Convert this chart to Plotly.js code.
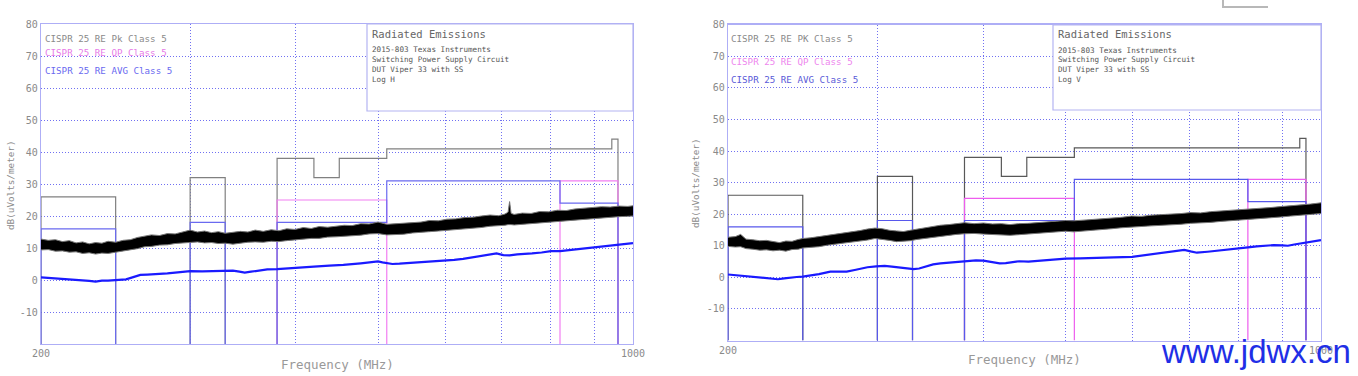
<!DOCTYPE html>
<html>
<head>
<meta charset="utf-8">
<script src="https://cdn.plot.ly/plotly-3.0.1.min.js"></script>
<style>html,body{margin:0;padding:0;background:#fff;}#chart{width:1358px;height:376px;}</style>
</head>
<body>
<div id="chart"></div>
<script>
// ---------- Limit lines (CISPR 25 Class 5), MHz / dB(uV/m) ----------
const pkStart = [200, 300, 380, 420, 450, 512, 944];
const pkStop  = [245, 330, 420, 450, 512, 944, 960];
const pkLevel = [26, 32, 38, 32, 38, 41, 44];
const qpStart = [380, 820];
const qpStop  = [512, 960];
const qpLevel = [25, 31];
const avStart = [200, 300, 380, 512, 820];
const avStop  = [245, 330, 512, 820, 960];
const avLevel = [16, 18, 18, 31, 24];

// ---------- Left panel (Log H) measured peak trace envelope ----------
const fPkL = [200,204,208,212,216,220,224,228,232,236,240,245,250,255,260,265,270,276,282,288,294,300,306,312,318,324,330,337,344,351,358,366,374,382,390,399,408,417,426,436,446,456,466,477,488,500,512,524,536,549,562,575,589,603,617,632,647,662,678,694,706,712,715,718,724,740,758,776,795,814,834,854,875,896,918,940,963,986,1000];
const pkHiL = [12.8,12.4,12.6,12.0,12.3,11.6,11.9,11.3,11.7,11.5,12.1,11.8,12.4,12.6,13.3,13.6,14.1,13.9,14.5,14.4,15.0,15.6,15.0,15.3,14.8,15.1,14.6,14.9,15.2,15.0,15.6,15.2,15.7,15.4,16.0,15.8,16.4,16.1,16.7,16.5,16.9,17.1,17.0,17.6,17.5,18.1,17.4,17.6,17.8,18.0,18.1,18.6,18.5,19.0,19.1,19.5,19.6,20.0,20.3,20.1,20.6,21.2,24.5,20.8,20.5,20.9,20.8,21.4,21.3,21.8,21.7,22.2,22.4,22.6,22.9,22.8,23.1,23.0,23.2];
const pkLoL = [9.4,9.5,9.0,9.1,8.7,8.8,8.3,8.5,8.1,8.4,8.3,8.7,8.9,9.4,9.8,10.4,10.5,10.9,11.0,11.4,11.5,11.8,11.9,11.6,11.7,11.4,11.5,11.2,11.6,11.8,11.9,11.8,12.1,12.0,12.3,12.6,12.7,13.0,13.0,13.4,13.5,13.6,13.9,14.0,14.4,14.5,14.1,14.2,14.3,14.7,14.8,15.1,15.3,15.5,15.7,15.9,16.2,16.4,16.8,16.9,17.1,17.3,17.2,17.3,17.2,17.4,17.6,17.8,18.1,18.3,18.4,18.7,18.9,19.2,19.5,19.6,19.8,19.9,20.0];

// ---------- Left panel measured average trace ----------
const fAvL = [200,206,212,218,224,228,232,236,240,246,252,257,262,267,272,277,282,290,300,310,320,330,337,343,348,354,360,370,380,392,404,420,438,455,477,490,500,506,512,520,530,545,560,580,600,615,630,645,660,675,690,703,715,730,745,760,780,800,820,840,860,880,900,920,940,960,980,1000];
const avgL = [0.8,0.6,0.4,0.2,0.0,-0.3,-0.5,-0.2,-0.2,0.0,0.2,0.9,1.6,1.7,1.8,1.9,2.1,2.4,2.8,2.7,2.8,2.9,2.9,2.6,2.3,2.6,2.9,3.3,3.4,3.7,4.0,4.2,4.5,4.7,5.2,5.5,5.8,5.5,5.2,5.0,5.1,5.3,5.6,5.8,6.0,6.3,6.6,7.1,7.5,7.9,8.3,7.8,7.7,8.0,8.1,8.3,8.6,9.0,9.0,9.3,9.6,9.9,10.2,10.5,10.8,11.1,11.4,11.5];

// ---------- Right panel (Log V) measured peak trace envelope ----------
const fPkR = [200,204,207,210,214,218,222,226,230,234,238,242,245,250,256,262,268,274,280,286,292,298,304,310,316,322,328,334,340,348,356,364,372,380,390,400,410,420,430,440,452,464,476,488,500,511,524,538,552,567,582,598,614,631,648,666,684,702,721,741,761,782,804,826,849,872,896,921,946,972,1000];
const pkHiR = [12.7,12.9,13.6,12.1,11.9,11.6,11.7,11.3,11.0,11.5,11.4,12.0,12.3,12.5,12.9,13.2,13.7,13.9,14.4,14.8,15.3,15.6,15.4,14.9,14.7,14.5,14.9,15.3,15.6,16.0,16.5,16.7,17.1,17.3,17.0,17.2,16.9,17.0,16.7,17.0,17.1,17.4,17.6,17.8,18.0,17.9,18.1,18.3,18.6,18.8,19.0,19.4,19.3,19.7,19.8,20.0,20.2,20.5,20.4,20.8,21.0,21.1,21.5,21.6,21.9,22.1,22.4,22.6,22.9,23.2,23.6];
const pkLoR = [9.8,9.6,9.7,9.1,8.9,8.6,8.7,8.4,8.6,8.3,8.8,8.9,9.3,9.5,9.7,10.2,10.5,10.9,11.1,11.5,11.8,12.3,12.1,11.7,11.3,11.4,11.6,12.0,12.3,12.7,13.0,13.3,13.6,13.8,13.9,13.7,13.6,13.5,13.3,13.5,13.7,14.0,14.2,14.4,14.6,14.4,14.7,14.9,15.2,15.4,15.7,16.0,16.1,16.3,16.4,16.7,16.8,17.1,17.2,17.4,17.7,17.9,18.1,18.3,18.6,18.8,19.1,19.4,19.6,19.9,20.2];

// ---------- Right panel measured average trace ----------
const fAvR = [200,206,212,219,224,229,233,237,241,245,250,256,260,264,270,276,283,292,299,306,312,318,322,326,331,336,342,349,356,365,374,384,392,400,409,418,425,432,441,452,463,475,487,500,520,540,570,599,620,645,668,690,702,714,735,760,780,800,820,840,860,880,900,914,930,950,975,1000];
const avgR = [0.9,0.6,0.4,0.0,-0.2,-0.6,-0.3,0.0,0.1,0.2,0.5,1.0,1.4,1.8,1.8,1.8,2.4,3.2,3.5,3.6,3.4,3.1,2.9,2.7,2.6,2.8,3.5,4.1,4.4,4.6,4.9,5.2,5.4,5.3,4.9,4.4,4.5,4.7,5.1,5.0,5.2,5.5,5.7,5.9,6.0,6.2,6.3,6.5,7.0,7.6,8.2,8.7,8.2,7.8,8.1,8.6,8.9,9.2,9.5,9.8,10.0,10.2,10.1,10.0,10.4,10.8,11.3,11.8];

// ---------- Ticks and texts ----------
const xTickVals = [200,300,400,500,600,700,800,900,1000];
const xTickText = ['200','','','','','','','','1000'];
const yTickVals = [-20,-10,0,10,20,30,40,50,60,70,80];
const yTickText = ['','-10','0','10','20','30','40','50','60','70','80'];
const legendL = ['CISPR 25 RE Pk Class 5','CISPR 25 RE QP Class 5','CISPR 25 RE AVG Class 5'];
const legendR = ['CISPR 25 RE PK Class 5','CISPR 25 RE QP Class 5','CISPR 25 RE AVG Class 5'];
const infoTitle = 'Radiated Emissions';
const infoL = ['2015-803 Texas Instruments','Switching Power Supply Circuit','DUT Viper 33 with SS','Log H'];
const infoR = ['2015-803 Texas Instruments','Switching Power Supply Circuit','DUT Viper 33 with SS','Log V'];
const xTitle = 'Frequency (MHz)';
const yTitle = 'dB(uVolts/meter)';
const watermark = 'www.jdwx.cn';

// ---------- Build ----------
const W = 1358, H = 376;
const px = v => v / W;
const py = v => 1 - v / H;
const YMIN = -20, YMAX = 80;

function limitPath(starts, stops, levels) {
  const xs = [], ys = [];
  for (let i = 0; i < starts.length; i++) {
    if (i === 0 || starts[i] !== stops[i - 1]) { xs.push(starts[i]); ys.push(YMIN); }
    xs.push(starts[i]); ys.push(levels[i]);
    xs.push(stops[i]); ys.push(levels[i]);
    if (i === starts.length - 1 || starts[i + 1] !== stops[i]) {
      xs.push(stops[i]); ys.push(YMIN);
      xs.push(null); ys.push(null);
    }
  }
  return {x: xs, y: ys};
}

const MONO = 'DejaVu Sans Mono, monospace';
const traces = [];
function panel(xa, ya, colors, fPk, hi, lo, fAv, av) {
  const pk = limitPath(pkStart, pkStop, pkLevel);
  const qp = limitPath(qpStart, qpStop, qpLevel);
  const avl = limitPath(avStart, avStop, avLevel);
  traces.push({x: pk.x, y: pk.y, xaxis: xa, yaxis: ya, mode: 'lines', line: {color: colors.pk, width: 1.2}, connectgaps: false, hoverinfo: 'skip'});
  traces.push({x: qp.x, y: qp.y, xaxis: xa, yaxis: ya, mode: 'lines', line: {color: colors.qp, width: 1.2}, connectgaps: false, hoverinfo: 'skip'});
  traces.push({x: avl.x, y: avl.y, xaxis: xa, yaxis: ya, mode: 'lines', line: {color: colors.av, width: 1.2}, connectgaps: false, hoverinfo: 'skip'});
  traces.push({x: fPk, y: lo, xaxis: xa, yaxis: ya, mode: 'lines', line: {color: '#777777', width: 1}, hoverinfo: 'skip'});
  traces.push({x: fPk, y: hi, xaxis: xa, yaxis: ya, mode: 'lines', fill: 'tonexty', fillcolor: '#000000', line: {color: '#777777', width: 1}, hoverinfo: 'skip'});
  traces.push({x: fAv, y: av, xaxis: xa, yaxis: ya, mode: 'lines', line: {color: '#1a1aff', width: 2.2}, hoverinfo: 'skip'});
}
panel('x', 'y', {pk: '#808080', qp: '#f27ef2', av: '#6a6af0'}, fPkL, pkHiL, pkLoL, fAvL, avgL);
panel('x2', 'y2', {pk: '#585858', qp: '#ee5cee', av: '#5858ec'}, fPkR, pkHiR, pkLoR, fAvR, avgR);

function xAxis(domain, anchor) {
  return {
    domain: domain, anchor: anchor, type: 'log',
    range: [Math.log10(200), Math.log10(1000)],
    tickvals: xTickVals, ticktext: xTickText, ticks: '',
    tickfont: {family: MONO, size: 10, color: '#8a8a8a'},
    showgrid: true, gridcolor: '#7070f2', griddash: '1px,2px', gridwidth: 1,
    showline: true, mirror: true, linecolor: '#aeaef6', linewidth: 1.3,
    zeroline: false, fixedrange: true
  };
}
function yAxis(domain, anchor) {
  return {
    domain: domain, anchor: anchor, range: [YMIN, YMAX],
    tickvals: yTickVals, ticktext: yTickText, ticks: '',
    tickfont: {family: MONO, size: 10, color: '#8a8a8a'},
    showgrid: true, gridcolor: '#7070f2', griddash: '1px,2px', gridwidth: 1,
    showline: true, mirror: true, linecolor: '#aeaef6', linewidth: 1.3,
    zeroline: false, fixedrange: true
  };
}

const ann = [];
const shapes = [];
function texts(x0, legend, legendY, legendColors, boxX0, boxX1, boxY0, boxY1, info, infoY, xTitleX, xTitleY, yTitleX, yTitleY) {
  legend.forEach((t, i) => ann.push({text: t, xref: 'paper', yref: 'paper', x: px(x0), y: py(legendY[i]), xanchor: 'left', yanchor: 'middle', showarrow: false, font: {family: MONO, size: 9.2, color: legendColors[i]}}));
  shapes.push({type: 'rect', xref: 'paper', yref: 'paper', x0: px(boxX0), x1: px(boxX1), y0: py(boxY1), y1: py(boxY0), line: {color: '#b4b4f2', width: 1.2}, fillcolor: '#ffffff', layer: 'above'});
  ann.push({text: infoTitle, xref: 'paper', yref: 'paper', x: px(boxX0 + 3), y: py(34), xanchor: 'left', yanchor: 'middle', showarrow: false, font: {family: MONO, size: 10.5, color: '#666'}});
  info.forEach((t, i) => ann.push({text: t, xref: 'paper', yref: 'paper', x: px(boxX0 + 3), y: py(infoY[i]), xanchor: 'left', yanchor: 'middle', showarrow: false, font: {family: MONO, size: 7.6, color: '#555'}}));
  ann.push({text: xTitle, xref: 'paper', yref: 'paper', x: px(xTitleX), y: py(xTitleY), xanchor: 'center', yanchor: 'middle', showarrow: false, font: {family: MONO, size: 12.5, color: '#999'}});
  ann.push({text: yTitle, xref: 'paper', yref: 'paper', x: px(yTitleX), y: py(yTitleY), xanchor: 'center', yanchor: 'middle', textangle: -90, showarrow: false, font: {family: MONO, size: 9.3, color: '#8a8a8a'}});
}
texts(43, legendL, [39, 52, 70], ['#8a8a8a', '#e77ae7', '#6a6af0'], 367, 633, 24, 111, infoL, [49, 59, 69, 79], 337, 364, 10, 185);
texts(729, legendR, [39, 62, 79], ['#8a8a8a', '#ee86ee', '#5a5ad8'], 1053, 1321, 25, 110, infoR, [50, 60, 69, 79], 1024, 359, 695, 183);

ann.push({text: watermark, xref: 'paper', yref: 'paper', x: px(1159), y: py(351), xanchor: 'left', yanchor: 'middle', showarrow: false, font: {family: 'Liberation Sans, Arial, sans-serif', size: 33, color: '#1f2fe6'}});
shapes.push({type: 'path', xref: 'paper', yref: 'paper', path: 'M ' + px(1223) + ' ' + py(-2) + ' L ' + px(1223) + ' ' + py(7) + ' L ' + px(1268) + ' ' + py(7), line: {color: '#b8b8b8', width: 2}});

const layout = {
  width: W, height: H, margin: {l: 0, r: 0, t: 0, b: 0},
  paper_bgcolor: '#ffffff', plot_bgcolor: '#ffffff', showlegend: false,
  xaxis: xAxis([px(41), px(633)], 'y'),
  yaxis: yAxis([py(344), py(24)], 'x'),
  xaxis2: xAxis([px(728), px(1321)], 'y2'),
  yaxis2: yAxis([py(340.5), py(24.7)], 'x2'),
  annotations: ann, shapes: shapes
};
Plotly.newPlot('chart', traces, layout, {displayModeBar: false, staticPlot: true});
</script>
</body>
</html>
